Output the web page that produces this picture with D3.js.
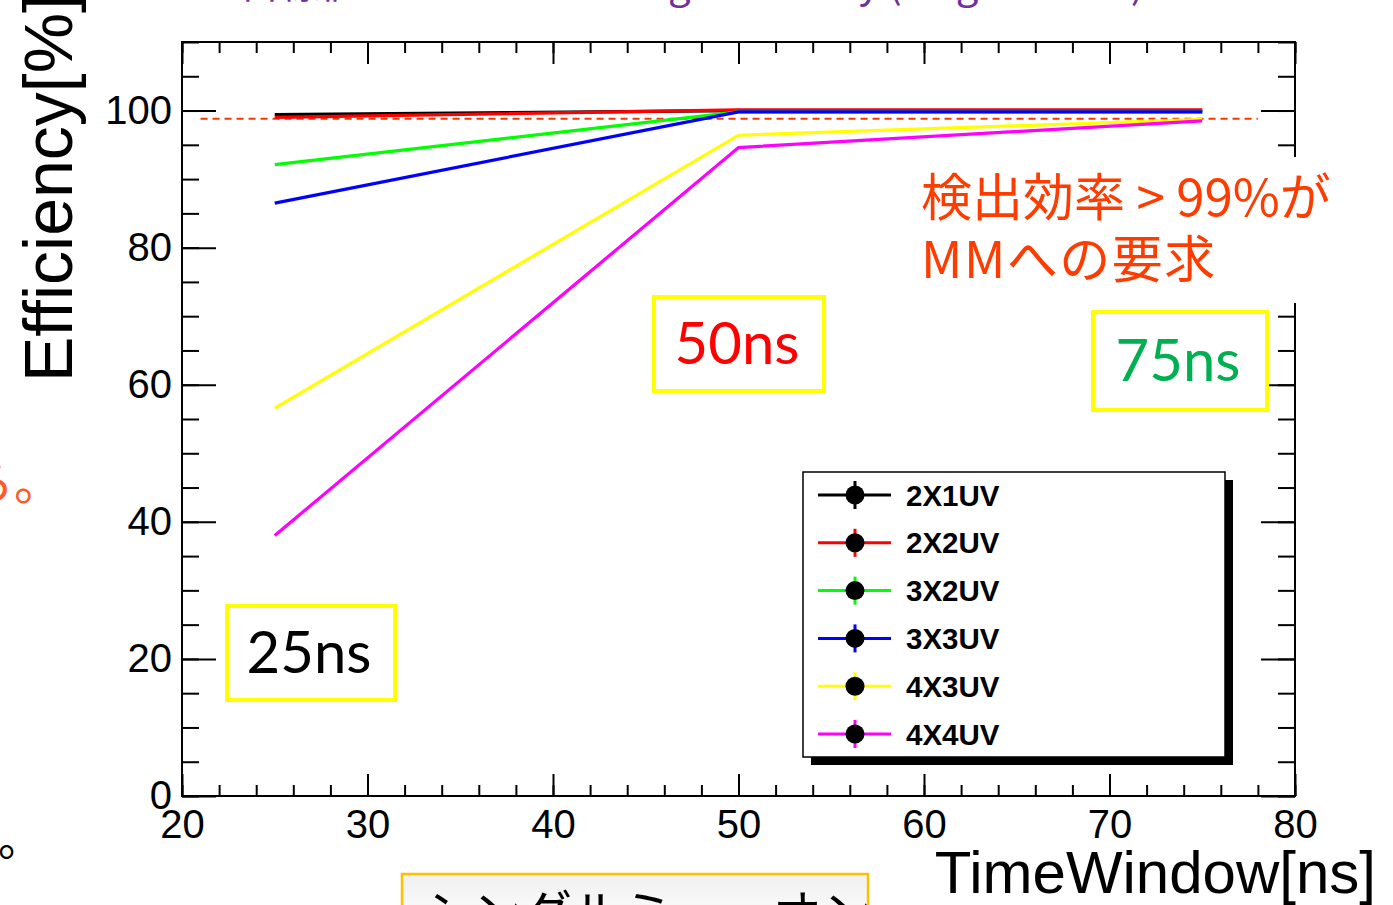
<!DOCTYPE html>
<html><head><meta charset="utf-8">
<script src="https://cdn.jsdelivr.net/npm/d3@7"></script>
<style>body{margin:0;background:#fff;}svg{display:block;}</style>
</head><body>
<script>
// ---- data ----
const timeWindows = [25, 50, 75];
const seriesNames = ["2X1UV", "2X2UV", "3X2UV", "3X3UV", "4X3UV", "4X4UV"];
const seriesColors = ["#000000", "#ff0000", "#00ff00", "#0000ff", "#ffff00", "#ff00ff"];
const eff2X1UV = [99.4, 100.0, 100.0];
const eff2X2UV = [99.0, 100.1, 100.1];
const eff3X2UV = [92.1, 99.8, 99.8];
const eff3X3UV = [86.5, 99.8, 99.8];
const eff4X3UV = [56.6, 96.4, 98.7];
const eff4X4UV = [38.0, 94.6, 98.5];
const seriesValues = [eff2X1UV, eff2X2UV, eff3X2UV, eff3X3UV, eff4X3UV, eff4X4UV];
const xTicks = [20, 30, 40, 50, 60, 70, 80];
const yTicks = [0, 20, 40, 60, 80, 100];
const thresholdX = [21, 78];
const thresholdY = 98.8;

const W = 1393, H = 905;
const svg = d3.select("body").append("svg").attr("width", W).attr("height", H);
svg.append("rect").attr("width", W).attr("height", H).attr("fill", "#fff");

const L = 182, R = 1295, T = 42, B = 796;
const x = d3.scaleLinear().domain([20, 80]).range([L, R]);
const y = d3.scaleLinear().domain([0, 110]).range([B, T]);

const minorX = d3.range(20, 80.01, 2);
const minorY = d3.range(0, 110.01, 5);

function styleAxis(g) {
  g.select(".domain").remove();
  g.selectAll("line").attr("stroke", "#000").attr("stroke-width", 2);
}
// bottom
svg.append("g").attr("transform", `translate(0,${B})`)
  .call(d3.axisBottom(x).tickValues(minorX).tickSize(-11).tickFormat(""))
  .call(styleAxis);
svg.append("g").attr("transform", `translate(0,${B})`)
  .call(d3.axisBottom(x).tickValues(xTicks).tickSize(-22).tickSizeOuter(0).tickPadding(14).tickFormat(d3.format("d")))
  .call(styleAxis)
  .selectAll("text").attr("font-family", "Liberation Sans, Arial, sans-serif").attr("font-size", 40).attr("fill", "#000");
// top
svg.append("g").attr("transform", `translate(0,${T})`)
  .call(d3.axisTop(x).tickValues(minorX).tickSize(-11).tickFormat(""))
  .call(styleAxis);
svg.append("g").attr("transform", `translate(0,${T})`)
  .call(d3.axisTop(x).tickValues(xTicks).tickSize(-22).tickFormat(""))
  .call(styleAxis);
// left
svg.append("g").attr("transform", `translate(${L},0)`)
  .call(d3.axisLeft(y).tickValues(minorY).tickSize(-17).tickFormat(""))
  .call(styleAxis);
svg.append("g").attr("transform", `translate(${L},0)`)
  .call(d3.axisLeft(y).tickValues(yTicks).tickSize(-34).tickPadding(10).tickFormat(d3.format("d")))
  .call(styleAxis)
  .selectAll("text").attr("font-family", "Liberation Sans, Arial, sans-serif").attr("font-size", 40).attr("fill", "#000");
// right
svg.append("g").attr("transform", `translate(${R},0)`)
  .call(d3.axisRight(y).tickValues(minorY).tickSize(-17).tickFormat(""))
  .call(styleAxis);
svg.append("g").attr("transform", `translate(${R},0)`)
  .call(d3.axisRight(y).tickValues(yTicks).tickSize(-34).tickFormat(""))
  .call(styleAxis);
// frame
svg.append("rect").attr("x", L).attr("y", T).attr("width", R - L).attr("height", B - T)
  .attr("fill", "none").attr("stroke", "#000").attr("stroke-width", 2);

// threshold dashed line
svg.append("line")
  .attr("x1", x(thresholdX[0])).attr("x2", x(thresholdX[1]))
  .attr("y1", y(thresholdY)).attr("y2", y(thresholdY))
  .attr("stroke", "#ff3300").attr("stroke-width", 2).attr("stroke-dasharray", "7,5");

// series lines
const line = d3.line().x((d, i) => x(timeWindows[i])).y(d => y(d));
seriesValues.forEach((vals, k) => {
  svg.append("path").datum(vals).attr("d", line)
    .attr("fill", "none").attr("stroke", seriesColors[k]).attr("stroke-width", 3.2);
});

// axis titles
svg.append("text").attr("transform", "translate(72,382) rotate(-90)")
  .attr("font-family", "Liberation Sans, Arial, sans-serif").attr("font-size", 68)
  .attr("fill", "#000").text("Efficiency[%]");
svg.append("text").attr("x", 1376).attr("y", 893).attr("text-anchor", "end")
  .attr("font-family", "Liberation Sans, Arial, sans-serif").attr("font-size", 60)
  .attr("fill", "#000").text("TimeWindow[ns]");

// legend
const lg = svg.append("g");
lg.append("rect").attr("x", 811).attr("y", 480).attr("width", 422).attr("height", 285).attr("fill", "#000");
lg.append("rect").attr("x", 803).attr("y", 472).attr("width", 422).attr("height", 285)
  .attr("fill", "#fff").attr("stroke", "#000").attr("stroke-width", 1.5);
seriesNames.forEach((name, k) => {
  const cy = 495 + k * 47.8;
  lg.append("line").attr("x1", 818).attr("x2", 891).attr("y1", cy).attr("y2", cy)
    .attr("stroke", seriesColors[k]).attr("stroke-width", 3);
  lg.append("line").attr("x1", 855).attr("x2", 855).attr("y1", cy - 14).attr("y2", cy + 14)
    .attr("stroke", seriesColors[k]).attr("stroke-width", 3);
  lg.append("circle").attr("cx", 855).attr("cy", cy).attr("r", 9.5).attr("fill", "#000");
  lg.append("text").attr("x", 906).attr("y", cy + 10.5)
    .attr("font-family", "Liberation Sans, Arial, sans-serif").attr("font-weight", "bold")
    .attr("font-size", 29.5).attr("fill", "#000").text(name);
});

// annotation boxes
function labelBox(x0, y0, w, h, txt, color) {
  svg.append("rect").attr("x", x0).attr("y", y0).attr("width", w).attr("height", h)
    .attr("fill", "#fff").attr("stroke", "#ffff00").attr("stroke-width", 4);
  svg.append("text").attr("x", x0 + w / 2 - 2).attr("y", y0 + h / 2 + 20).attr("text-anchor", "middle")
    .attr("font-family", "Lato, 'Open Sans', sans-serif").attr("font-size", 58)
    .attr("fill", color).text(txt);
}
labelBox(227, 606, 168, 94, "25ns", "#000000");
labelBox(654, 297, 170, 94, "50ns", "#ff0000");
labelBox(1093, 312, 174, 98, "75ns", "#00b050");

// requirement note (white background hides frame)
svg.append("rect").attr("x", 905).attr("y", 157).attr("width", 440).attr("height", 146).attr("fill", "#fff");
const noteFont = "'Noto Sans CJK JP', 'Noto Sans', sans-serif";
svg.append("text").attr("x", 921).attr("y", 216).attr("font-family", noteFont).attr("font-size", 51)
  .attr("fill", "#ff3c00").text("検出効率 > 99%が");
svg.append("text").attr("x", 921).attr("y", 278).attr("font-family", noteFont).attr("font-size", 51)
  .attr("letter-spacing", 1.5).attr("fill", "#ff3c00").text("MMへの要求");

// slide fragments
svg.append("text").attr("x", 240).attr("y", -2).attr("font-family", noteFont).attr("font-size", 40)
  .attr("fill", "#7030a0").text("目標値でのTrack Finding Efficiency (single muon)");
svg.append("text").attr("x", 62).attr("y", 500).attr("text-anchor", "end").attr("font-family", noteFont)
  .attr("font-size", 48).attr("fill", "#ff5a2a").text("ら。");
svg.append("text").attr("x", 42).attr("y", 856).attr("text-anchor", "end").attr("font-family", noteFont)
  .attr("font-size", 44).attr("fill", "#000").text("る。");

const grad = svg.append("defs").append("linearGradient").attr("id", "bx").attr("x1", 0).attr("x2", 0).attr("y1", 0).attr("y2", 1);
grad.append("stop").attr("offset", "0%").attr("stop-color", "#f0f0f0");
grad.append("stop").attr("offset", "100%").attr("stop-color", "#ffffff");
svg.append("rect").attr("x", 402).attr("y", 874).attr("width", 466).attr("height", 60)
  .attr("fill", "url(#bx)").attr("stroke", "#ffc000").attr("stroke-width", 2.5);
svg.append("text").attr("x", 422).attr("y", 932).attr("font-family", noteFont).attr("font-size", 50)
  .attr("fill", "#000").text("シングルミューオン");
</script>
</body></html>
